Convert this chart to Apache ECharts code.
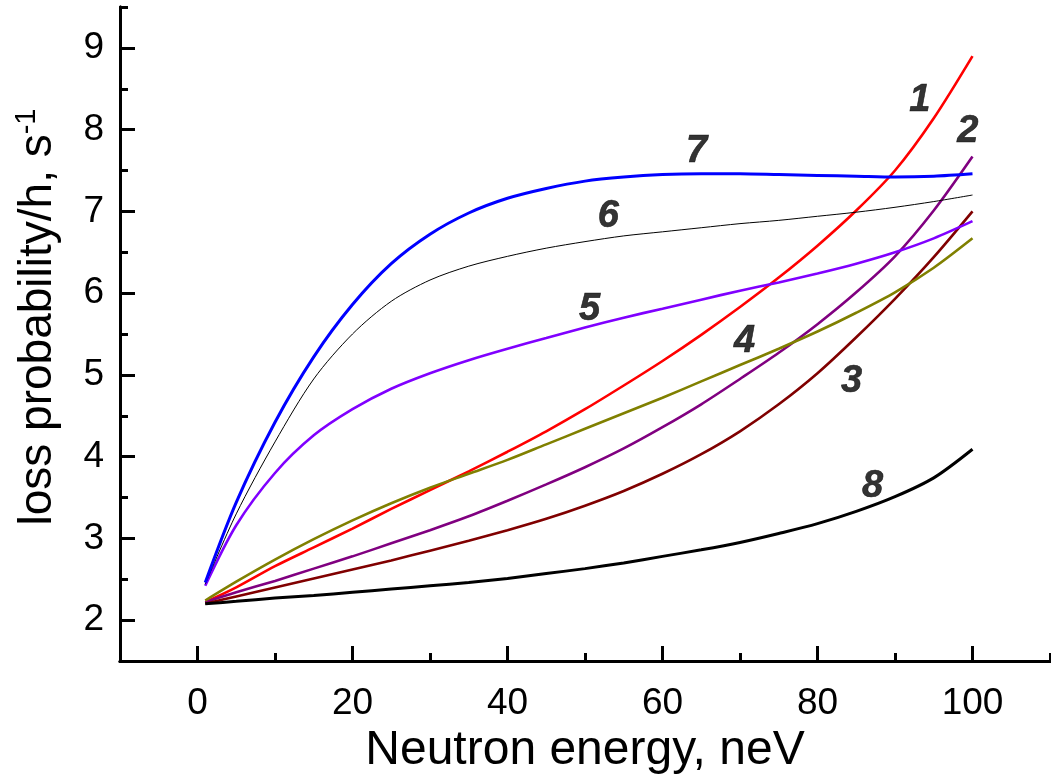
<!DOCTYPE html>
<html>
<head>
<meta charset="utf-8">
<script src="https://cdn.jsdelivr.net/npm/echarts@6/dist/echarts.min.js"></script>
<style>
  html, body { margin: 0; padding: 0; background: #fff; }
  #chart { width: 1051px; height: 780px; }
</style>
</head>
<body>
<div id="chart"></div>
<script>
// energies (neV) at which the curves were read
const energy = [1, 5, 10, 15, 20, 25, 30, 35, 40, 45, 50, 55, 60, 65, 70, 75, 80, 85, 90, 95, 100];

// loss probability / h, s^-1
const curve1 = [2.22, 2.40, 2.66, 2.89, 3.12, 3.36, 3.59, 3.82, 4.06, 4.31, 4.58, 4.87, 5.17, 5.49, 5.83, 6.19, 6.58, 7.01, 7.5, 8.14, 8.9];
const curve2 = [2.22, 2.34, 2.48, 2.63, 2.78, 2.94, 3.1, 3.27, 3.46, 3.66, 3.87, 4.1, 4.36, 4.64, 4.95, 5.27, 5.62, 6.01, 6.45, 7.01, 7.67];
const curve3 = [2.2, 2.29, 2.4, 2.51, 2.62, 2.73, 2.85, 2.97, 3.1, 3.24, 3.4, 3.58, 3.79, 4.03, 4.31, 4.64, 5.02, 5.46, 5.93, 6.44, 7.0];
const curve4 = [2.24, 2.47, 2.74, 2.99, 3.22, 3.43, 3.62, 3.79, 3.96, 4.15, 4.34, 4.53, 4.72, 4.92, 5.12, 5.32, 5.53, 5.76, 6.01, 6.31, 6.67];
const curve5 = [2.42, 3.16, 3.8, 4.26, 4.58, 4.83, 5.02, 5.18, 5.32, 5.45, 5.58, 5.7, 5.81, 5.92, 6.03, 6.13, 6.24, 6.36, 6.5, 6.67, 6.88];
const curve6 = [2.44, 3.3, 4.18, 4.95, 5.5, 5.9, 6.16, 6.33, 6.45, 6.55, 6.63, 6.7, 6.75, 6.8, 6.85, 6.89, 6.94, 6.99, 7.05, 7.12, 7.2];
const curve7 = [2.46, 3.44, 4.42, 5.22, 5.86, 6.36, 6.72, 6.98, 7.16, 7.28, 7.37, 7.42, 7.45, 7.46, 7.46, 7.45, 7.44, 7.43, 7.42, 7.43, 7.46];
const curve8 = [2.2, 2.23, 2.27, 2.3, 2.34, 2.38, 2.42, 2.46, 2.51, 2.57, 2.63, 2.7, 2.78, 2.86, 2.95, 3.06, 3.18, 3.33, 3.51, 3.74, 4.09];

// curve number labels: [energy, value, text]
const curveLabels = [
    [93.2, 8.36, '1'], [99.4, 7.98, '2'], [84.4, 4.92, '3'], [70.6, 5.41, '4'],
    [50.6, 5.8, '5'], [53, 6.94, '6'], [64.4, 7.73, '7'], [87.1, 3.64, '8']
];

const xMajor = [0, 20, 40, 60, 80, 100];
const xMinor = [-10, 10, 30, 50, 70, 90, 110];
const yMajor = [2, 3, 4, 5, 6, 7, 8, 9];
const yMinor = [1.5, 2.5, 3.5, 4.5, 5.5, 6.5, 7.5, 8.5, 9.5];

const curves = [
    { data: curve1, color: '#ff0000', width: 2.6 },
    { data: curve2, color: '#800080', width: 2.6 },
    { data: curve3, color: '#800000', width: 2.6 },
    { data: curve4, color: '#808000', width: 2.6 },
    { data: curve5, color: '#8000ff', width: 2.6 },
    { data: curve6, color: '#000000', width: 1 },
    { data: curve7, color: '#0000ff', width: 3 },
    { data: curve8, color: '#000000', width: 3 }
];

const font = 'Arial, "Liberation Sans", sans-serif';
const axisLine = { show: true, onZero: false, lineStyle: { color: '#000', width: 3 } };

function xAxisDef(values, len, labels) {
    return {
        type: 'value', min: -10, max: 110, position: 'bottom',
        axisLine: axisLine,
        splitLine: { show: false },
        axisTick: { show: true, inside: true, length: len, customValues: values, lineStyle: { color: '#000', width: 3 } },
        axisLabel: labels
            ? { show: true, customValues: values, color: '#000', fontSize: 37, fontFamily: font, margin: 24 }
            : { show: false }
    };
}

function yAxisDef(values, len, labels) {
    return {
        type: 'value', min: 1.5, max: 9.5, position: 'left',
        axisLine: axisLine,
        splitLine: { show: false },
        axisTick: { show: true, inside: true, length: len, customValues: values, lineStyle: { color: '#000', width: 3 } },
        axisLabel: labels
            ? { show: true, customValues: values, color: '#000', fontSize: 37, fontFamily: font, margin: 16 }
            : { show: false }
    };
}

const xMain = xAxisDef(xMajor, 15, true);
xMain.name = 'Neutron energy, neV';
xMain.nameLocation = 'middle';
xMain.nameGap = 61;
xMain.nameTextStyle = { color: '#000', fontSize: 48, fontFamily: font };

const yMain = yAxisDef(yMajor, 15, true);
yMain.name = '{t|loss probability/h, s}{s|-1}';
yMain.nameLocation = 'middle';
yMain.nameRotate = 90;
yMain.nameGap = 56;
yMain.nameTextStyle = {
    color: '#000', fontFamily: font,
    padding: [0, 0, 0, 34],
    rich: {
        t: { fontSize: 46, fontFamily: font, color: '#000', lineHeight: 52 },
        s: { fontSize: 29, fontFamily: font, color: '#000', lineHeight: 52, verticalAlign: 'top' }
    }
};

const series = curves.map(c => ({
    type: 'line',
    smooth: 0.3,
    showSymbol: false,
    silent: true,
    data: energy.map((e, i) => [e, c.data[i]]),
    lineStyle: { color: c.color, width: c.width },
    z: 2
}));

series.push({
    type: 'scatter',
    symbolSize: 0,
    silent: true,
    data: curveLabels.map(l => [l[0], l[1], l[2]]),
    label: {
        show: true, position: 'inside',
        formatter: p => p.data[2],
        color: '#000', fontSize: 38, fontStyle: 'italic', fontWeight: 'bold', fontFamily: font,
        textBorderColor: '#000', textBorderWidth: 0.6
    },
    z: 5
});

const chart = echarts.init(document.getElementById('chart'));
chart.setOption({
    animation: false,
    backgroundColor: '#fff',
    grid: { left: 120, right: 1, top: 7, bottom: 119, containLabel: false, outerBoundsMode: 'none' },
    xAxis: [xMain, xAxisDef(xMinor, 8, false)],
    yAxis: [yMain, yAxisDef(yMinor, 8, false)],
    series: series
});

window.addEventListener('resize', () => chart.resize());
</script>
</body>
</html>
